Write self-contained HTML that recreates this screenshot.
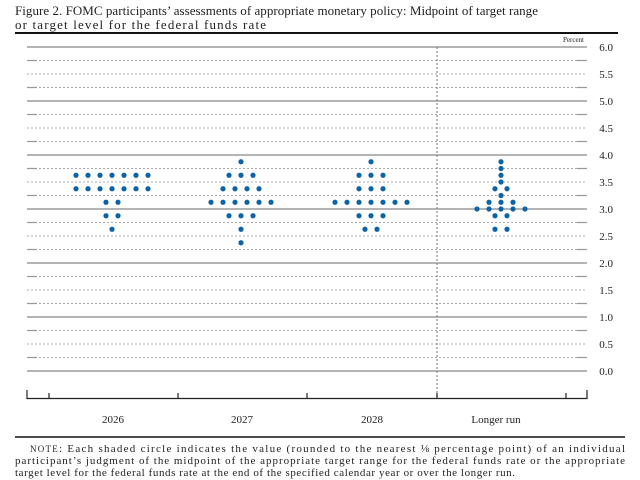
<!DOCTYPE html>
<html><head><meta charset="utf-8"><style>
body{margin:0;background:#fff;width:640px;height:480px;overflow:hidden}
svg{display:block}
text{font-family:"Liberation Serif",serif;fill:#222}
</style></head><body>
<svg width="640" height="480" xmlns="http://www.w3.org/2000/svg">
<text x="15" y="15" font-size="13" textLength="523" lengthAdjust="spacing">Figure 2. FOMC participants’ assessments of appropriate monetary policy: Midpoint of target range</text>
<text x="15" y="29" font-size="13" textLength="251" lengthAdjust="spacing">or target level for the federal funds rate</text>
<line x1="15" y1="33" x2="618" y2="33" stroke="#111" stroke-width="2"/>
<text x="584" y="42" font-size="7" text-anchor="end">Percent</text>
<g stroke="#888" stroke-width="1.2">
<line x1="27" y1="371" x2="587" y2="371"/><line x1="27" y1="317" x2="587" y2="317"/><line x1="27" y1="263" x2="587" y2="263"/><line x1="27" y1="209" x2="587" y2="209"/><line x1="27" y1="155" x2="587" y2="155"/><line x1="27" y1="101" x2="587" y2="101"/><line x1="27" y1="47" x2="587" y2="47"/>
</g>
<g stroke="#aaa" stroke-width="1" stroke-dasharray="2,2">
<line x1="27" y1="357.5" x2="587" y2="357.5"/><line x1="27" y1="344" x2="587" y2="344"/><line x1="27" y1="330.5" x2="587" y2="330.5"/>
<line x1="27" y1="303.5" x2="587" y2="303.5"/><line x1="27" y1="290" x2="587" y2="290"/><line x1="27" y1="276.5" x2="587" y2="276.5"/>
<line x1="27" y1="249.5" x2="587" y2="249.5"/><line x1="27" y1="236" x2="587" y2="236"/><line x1="27" y1="222.5" x2="587" y2="222.5"/>
<line x1="27" y1="195.5" x2="587" y2="195.5"/><line x1="27" y1="182" x2="587" y2="182"/><line x1="27" y1="168.5" x2="587" y2="168.5"/>
<line x1="27" y1="141.5" x2="587" y2="141.5"/><line x1="27" y1="128" x2="587" y2="128"/><line x1="27" y1="114.5" x2="587" y2="114.5"/>
<line x1="27" y1="87.5" x2="587" y2="87.5"/><line x1="27" y1="74" x2="587" y2="74"/><line x1="27" y1="60.5" x2="587" y2="60.5"/>
</g>
<path stroke="#999" stroke-width="1.2" d="M27 357.5H37M577 357.5H587M27 330.5H37M577 330.5H587M27 303.5H37M577 303.5H587M27 276.5H37M577 276.5H587M27 249.5H37M577 249.5H587M27 222.5H37M577 222.5H587M27 195.5H37M577 195.5H587M27 168.5H37M577 168.5H587M27 141.5H37M577 141.5H587M27 114.5H37M577 114.5H587M27 87.5H37M577 87.5H587M27 60.5H37M577 60.5H587"/>
<g font-size="11" text-anchor="end">
<text x="613" y="375">0.0</text><text x="613" y="348">0.5</text><text x="613" y="321">1.0</text><text x="613" y="294">1.5</text><text x="613" y="267">2.0</text><text x="613" y="240">2.5</text><text x="613" y="213">3.0</text><text x="613" y="186">3.5</text><text x="613" y="159">4.0</text><text x="613" y="132">4.5</text><text x="613" y="105">5.0</text><text x="613" y="78">5.5</text><text x="613" y="51">6.0</text>
</g>
<line x1="437" y1="47" x2="437" y2="398" stroke="#888" stroke-width="1.2" stroke-dasharray="2,2"/>
<path d="M27 390V398.5H587V390M49 393V398M178 393V398M307 393V398M437 393V398M566 393V398" stroke="#222" stroke-width="1.2" fill="none"/>
<g font-size="11" text-anchor="middle">
<text x="113" y="423">2026</text><text x="242" y="423">2027</text><text x="372" y="423">2028</text><text x="496" y="423">Longer run</text>
</g>
<line x1="15" y1="437" x2="625" y2="437" stroke="#111" stroke-width="1.5"/>
<g font-size="11">
<text x="30" y="452" textLength="595" lengthAdjust="spacing"><tspan font-size="9">NOTE</tspan>: Each shaded circle indicates the value (rounded to the nearest ⅛ percentage point) of an individual</text>
<text x="15" y="464" textLength="610" lengthAdjust="spacing">participant’s judgment of the midpoint of the appropriate target range for the federal funds rate or the appropriate</text>
<text x="15" y="476" textLength="500" lengthAdjust="spacing">target level for the federal funds rate at the end of the specified calendar year or over the longer run.</text>
</g>
<g fill="#0b63a8">
<circle cx="76" cy="175.25" r="2.6"/><circle cx="88" cy="175.25" r="2.6"/><circle cx="100" cy="175.25" r="2.6"/><circle cx="112" cy="175.25" r="2.6"/><circle cx="124" cy="175.25" r="2.6"/><circle cx="136" cy="175.25" r="2.6"/><circle cx="148" cy="175.25" r="2.6"/>
<circle cx="76" cy="188.75" r="2.6"/><circle cx="88" cy="188.75" r="2.6"/><circle cx="100" cy="188.75" r="2.6"/><circle cx="112" cy="188.75" r="2.6"/><circle cx="124" cy="188.75" r="2.6"/><circle cx="136" cy="188.75" r="2.6"/><circle cx="148" cy="188.75" r="2.6"/>
<circle cx="106" cy="202.25" r="2.6"/><circle cx="118" cy="202.25" r="2.6"/>
<circle cx="106" cy="215.75" r="2.6"/><circle cx="118" cy="215.75" r="2.6"/>
<circle cx="112" cy="229.25" r="2.6"/>

<circle cx="241" cy="161.75" r="2.6"/>
<circle cx="229" cy="175.25" r="2.6"/><circle cx="241" cy="175.25" r="2.6"/><circle cx="253" cy="175.25" r="2.6"/>
<circle cx="223" cy="188.75" r="2.6"/><circle cx="235" cy="188.75" r="2.6"/><circle cx="247" cy="188.75" r="2.6"/><circle cx="259" cy="188.75" r="2.6"/>
<circle cx="211" cy="202.25" r="2.6"/><circle cx="223" cy="202.25" r="2.6"/><circle cx="235" cy="202.25" r="2.6"/><circle cx="247" cy="202.25" r="2.6"/><circle cx="259" cy="202.25" r="2.6"/><circle cx="271" cy="202.25" r="2.6"/>
<circle cx="229" cy="215.75" r="2.6"/><circle cx="241" cy="215.75" r="2.6"/><circle cx="253" cy="215.75" r="2.6"/>
<circle cx="241" cy="229.25" r="2.6"/>
<circle cx="241" cy="242.75" r="2.6"/>

<circle cx="371" cy="161.75" r="2.6"/>
<circle cx="359" cy="175.25" r="2.6"/><circle cx="371" cy="175.25" r="2.6"/><circle cx="383" cy="175.25" r="2.6"/>
<circle cx="359" cy="188.75" r="2.6"/><circle cx="371" cy="188.75" r="2.6"/><circle cx="383" cy="188.75" r="2.6"/>
<circle cx="335" cy="202.25" r="2.6"/><circle cx="347" cy="202.25" r="2.6"/><circle cx="359" cy="202.25" r="2.6"/><circle cx="371" cy="202.25" r="2.6"/><circle cx="383" cy="202.25" r="2.6"/><circle cx="395" cy="202.25" r="2.6"/><circle cx="407" cy="202.25" r="2.6"/>
<circle cx="359" cy="215.75" r="2.6"/><circle cx="371" cy="215.75" r="2.6"/><circle cx="383" cy="215.75" r="2.6"/>
<circle cx="365" cy="229.25" r="2.6"/><circle cx="377" cy="229.25" r="2.6"/>

<circle cx="501" cy="161.75" r="2.6"/><circle cx="501" cy="168.5" r="2.6"/><circle cx="501" cy="175.25" r="2.6"/><circle cx="501" cy="182" r="2.6"/>
<circle cx="495" cy="188.75" r="2.6"/><circle cx="507" cy="188.75" r="2.6"/>
<circle cx="501" cy="195.5" r="2.6"/>
<circle cx="489" cy="202.25" r="2.6"/><circle cx="501" cy="202.25" r="2.6"/><circle cx="513" cy="202.25" r="2.6"/>
<circle cx="477" cy="209" r="2.6"/><circle cx="489" cy="209" r="2.6"/><circle cx="501" cy="209" r="2.6"/><circle cx="513" cy="209" r="2.6"/><circle cx="525" cy="209" r="2.6"/>
<circle cx="495" cy="215.75" r="2.6"/><circle cx="507" cy="215.75" r="2.6"/>
<circle cx="495" cy="229.25" r="2.6"/><circle cx="507" cy="229.25" r="2.6"/>
</g>
</svg>
</body></html>
